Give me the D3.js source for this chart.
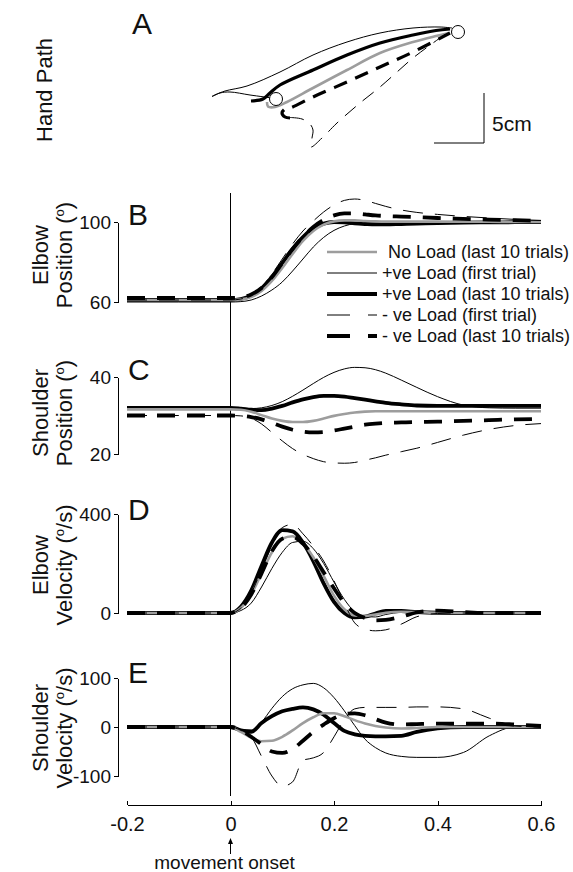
<!DOCTYPE html>
<meta charset="utf-8">

<head>
    <title>Hand path and joint kinematics</title>
</head>

<style>
    body {
        margin: 0;
        background-color: #ffffff;
    }

    svg {
        font-family: "Liberation Sans", Arial, sans-serif;
    }

    .axis path,
    .axis line {
        fill: none;
        stroke: #000;
        stroke-width: 1px;
        shape-rendering: crispEdges;
    }

    .axis text {
        font-size: 19px;
        fill: #111;
        font-family: "Liberation Sans", Arial, sans-serif;
    }

    .xaxis text {
        font-size: 20px;
    }

    .ylab {
        font-size: 22px;
        fill: #111;
    }

    .letter {
        font-size: 30px;
        fill: #111;
    }

    .legend text {
        font-size: 18px;
        fill: #111;
    }
</style>

<body>
    <svg width="573" height="872"></svg>
</body>

<script src="https://d3js.org/d3.v7.min.js"></script>

<script>
    // time base (s), shared by every trace
    var time = [-0.2, -0.1, 0, 0.02, 0.04, 0.06, 0.08, 0.1, 0.12, 0.14, 0.16, 0.18, 0.2,
        0.22, 0.24, 0.26, 0.28, 0.3, 0.33, 0.36, 0.4, 0.45, 0.5, 0.55, 0.6];
    var timeTicks = [-0.2, 0, 0.2, 0.4, 0.6];

    var conditions = ["No Load (last 10 trials)", "+ve Load (first trial)", "+ve Load (last 10 trials)",
        "- ve Load (first trial)", "- ve Load (last 10 trials)"];

    // B - elbow position (deg)
    var elbowPosTicks = [60, 100];
    var elbowPosNoLoad = [61, 61, 61, 61.3, 62.5, 65.5, 70.5, 77, 84, 90.5, 95.5, 98.7, 100.3, 100.8, 100.8, 100.5, 100.3, 100.2, 100.2, 100.2, 100.2, 100.1, 100.1, 100, 100];
    var elbowPosPosFirst = [60, 60, 60, 60.2, 61, 63, 66, 70, 75.5, 81.5, 87.5, 92.3, 95.8, 98, 99.2, 99.6, 99.5, 99.4, 99.3, 99.3, 99.4, 99.5, 99.6, 99.7, 99.8];
    var elbowPosPosLast = [61, 61, 61, 61.5, 63.2, 66.8, 72.5, 79.5, 86.5, 92.5, 96.8, 99.2, 100, 99.8, 99.3, 99, 98.8, 98.8, 99, 99.2, 99.5, 99.7, 99.8, 99.9, 100];
    var elbowPosNegFirst = [61, 61, 61, 61.5, 63.5, 67.5, 74, 81.5, 89, 95.5, 100.5, 105, 108.5, 110.8, 111.5, 110.8, 109.3, 107.8, 106, 104.8, 103.8, 102.8, 102, 101.3, 100.8];
    var elbowPosNegLast = [62, 62, 62, 62.3, 63.8, 67, 72.5, 79.5, 86.5, 92.5, 97.5, 101, 103.3, 104.3, 104.3, 103.8, 103.3, 103, 102.7, 102.4, 102, 101.6, 101.2, 100.9, 100.6];

    // C - shoulder position (deg)
    var shoulderPosTicks = [20, 40];
    var shoulderPosNoLoad = [31.6, 31.6, 31.6, 31.5, 31, 30.1, 29.2, 28.6, 28.3, 28.3, 28.6, 29.2, 29.9, 30.4, 30.8, 31, 31.1, 31.1, 31.1, 31.1, 31.1, 31.1, 31.1, 31.1, 31.1];
    var shoulderPosPosFirst = [32, 32, 32, 31.9, 31.8, 32, 32.6, 33.6, 35, 36.6, 38.3, 39.9, 41.2, 42.1, 42.5, 42.4, 41.9, 41, 39.2, 37.3, 34.9, 32.7, 32, 31.9, 31.9];
    var shoulderPosPosLast = [32, 32, 32, 31.8, 31.5, 31.4, 31.8, 32.5, 33.4, 34.2, 34.8, 35.1, 35.1, 34.9, 34.5, 34.1, 33.7, 33.3, 32.9, 32.6, 32.5, 32.5, 32.5, 32.5, 32.5];
    var shoulderPosNegFirst = [30, 30, 30, 29.9, 29.3, 27.8, 25.6, 23.4, 21.4, 19.9, 18.8, 18, 17.7, 17.6, 17.8, 18.4, 19, 19.7, 20.6, 21.5, 23, 24.9, 26.4, 27.4, 27.9];
    var shoulderPosNegLast = [30, 30, 30, 29.9, 29.6, 29, 28.1, 27.1, 26.3, 25.8, 25.6, 25.7, 26.1, 26.6, 27.1, 27.6, 27.9, 28.1, 28.2, 28.3, 28.4, 28.6, 28.8, 29, 29.1];

    // D - elbow velocity (deg/s)
    var elbowVelTicks = [0, 400];
    var elbowVelNoLoad = [0, 0, 0, 20, 75, 160, 245, 300, 310, 280, 225, 150, 70, 15, -10, -12, -6, 1, 5, 4, 1, 0, 0, 0, 0];
    var elbowVelPosFirst = [0, 0, 0, 10, 40, 105, 180, 245, 285, 290, 260, 200, 125, 55, 5, -15, -16, -6, 3, 5, 2, 0, 0, 0, 0];
    var elbowVelPosLast = [0, 0, 0, 25, 90, 190, 285, 335, 330, 285, 210, 120, 45, 0, -18, -15, -2, 8, 8, 4, 1, 0, 0, 0, 0];
    var elbowVelNegFirst = [0, 0, 0, 20, 80, 175, 270, 345, 358, 320, 270, 210, 130, 40, -40, -65, -72, -68, -45, -15, -2, 0, 0, 0, 0];
    var elbowVelNegLast = [0, 0, 0, 20, 75, 160, 250, 300, 308, 280, 230, 165, 100, 40, 0, -20, -30, -28, -15, 2, 10, 4, 0, 0, 0];

    // E - shoulder velocity (deg/s)
    var shoulderVelTicks = [-100, 0, 100];
    var shoulderVelNoLoad = [0, 0, 0, -10, -22, -29, -28, -20, -7, 8, 20, 28, 28, 22, 14, 7, 2, -1, -3, -2, 0, 0, 0, 0, 0];
    var shoulderVelPosFirst = [0, 0, 0, -5, -6, 10, 38, 62, 78, 86, 89, 80, 60, 33, 3, -25, -42, -53, -60, -62, -62, -52, -18, 0, 0];
    var shoulderVelPosLast = [0, 0, 0, -7, -10, 8, 22, 32, 37, 40, 36, 25, 8, -8, -15, -18, -19, -19, -18, -10, -3, 0, 0, 0, 0];
    var shoulderVelNegFirst = [0, 0, 0, -7, -20, -60, -100, -121, -112, -68, -63, -52, -20, 15, 37, 40, 40, 40, 40, 41, 41, 37, 18, 2, 0];
    var shoulderVelNegLast = [0, 0, 0, -6, -20, -35, -50, -53, -45, -28, -10, 5, 18, 26, 28, 24, 16, 9, 5, 6, 7, 7, 7, 5, 2];

    // A - hand paths, cm relative to the start circle (y up)
    var handStart = [0, 0];
    var handTarget = [18.2, 6.7];
    var handNoLoad = [[-0.9, -0.3], [-0.8, -0.75], [-0.1, -0.8], [1.1, -0.3], [3.7, 1.1], [7.1, 2.9], [10.4, 4.6], [13.7, 5.7], [16, 6.3], [17.3, 6.6]];
    var handPosFirst = [[-0.4, 0.1], [-2.6, 0.4], [-4.6, 0.7], [-5.6, 0.6], [-6.4, 0.25], [-6.0, 0.45], [-5.1, 0.8], [-2.9, 1.3], [0.4, 2.7], [3.7, 4.4], [7.1, 5.7], [10.4, 6.6], [13.7, 7.1], [16.4, 7.2], [17.6, 7.1]];
    var handPosLast = [[-2.5, -0.2], [-1.3, 0.0], [-0.6, 0.6], [0.4, 1.4], [3.7, 2.9], [7.1, 4.4], [10.4, 5.6], [13.7, 6.4], [16, 6.85], [17.4, 7.0]];
    var handNegFirst = [[1.4, -1.85], [2.6, -2.0], [3.4, -2.5], [3.7, -3.1], [3.6, -3.9], [3.5, -4.8], [4.9, -3.6], [6.1, -2.4], [8.4, -0.4], [10.4, 1.2], [12.1, 2.7], [13.7, 4.1], [15.7, 5.6], [17.1, 6.6]];
    var handNegLast = [[1.4, -1.9], [0.9, -1.8], [0.6, -1.4], [0.9, -1.0], [1.4, -0.9], [3.7, 0.2], [7.1, 1.7], [10.4, 3.2], [13.7, 4.7], [17.4, 6.6]];
    var scaleBarCm = 5;

    // styles, in the order of conditions
    var lineStyles = [
        { stroke: "#9d9d9d", width: 2.6, dash: null },
        { stroke: "#000", width: 1, dash: null },
        { stroke: "#000", width: 3.8, dash: null },
        { stroke: "#000", width: 1, dash: "20,12" },
        { stroke: "#000", width: 3.8, dash: "18,12" }
    ];
    // draw order: thick solid under the grey, dashed on top
    var drawOrder = [1, 2, 0, 3, 4];

    var svg = d3.select("svg");

    var x = d3.scaleLinear()
        .domain([-0.2, 0.6])
        .range([127, 541]);

    var panels = [
        {
            letter: "B", label: [["Elbow"], ["Position (", "o", ")"]], ticks: elbowPosTicks,
            range: [302, 222], labelY: 255, letterY: 225,
            series: [elbowPosNoLoad, elbowPosPosFirst, elbowPosPosLast, elbowPosNegFirst, elbowPosNegLast]
        },
        {
            letter: "C", label: [["Shoulder"], ["Position (", "o", ")"]], ticks: shoulderPosTicks,
            range: [454, 377], labelY: 413, letterY: 380,
            series: [shoulderPosNoLoad, shoulderPosPosFirst, shoulderPosPosLast, shoulderPosNegFirst, shoulderPosNegLast]
        },
        {
            letter: "D", label: [["Elbow"], ["Velocity (", "o", "/s)"]], ticks: elbowVelTicks,
            range: [613, 514], labelY: 565, letterY: 520,
            series: [elbowVelNoLoad, elbowVelPosFirst, elbowVelPosLast, elbowVelNegFirst, elbowVelNegLast]
        },
        {
            letter: "E", label: [["Shoulder"], ["Velocity (", "o", "/s)"]], ticks: shoulderVelTicks,
            range: [776, 678], labelY: 728, letterY: 683,
            series: [shoulderVelNoLoad, shoulderVelPosFirst, shoulderVelPosLast, shoulderVelNegFirst, shoulderVelNegLast]
        }
    ];

    function styleLine(sel, s) {
        sel.attr("fill", "none")
            .attr("stroke", s.stroke)
            .attr("stroke-width", s.width)
            .attr("stroke-dasharray", s.dash)
            .attr("stroke-linejoin", "round");
    }

    // rotated two-line axis titles, middle part is a superscript
    function yLabel(lines, x0, cy) {
        lines.forEach(function (parts, i) {
            var t = svg.append("text")
                .attr("class", "ylab")
                .attr("text-anchor", "middle")
                .attr("transform", "translate(" + (x0 + i * 24) + "," + cy + ") rotate(-90)");
            t.append("tspan").text(parts[0]);
            if (parts.length > 1) {
                t.append("tspan").attr("dy", -8).style("font-size", "13px").text(parts[1]);
                t.append("tspan").attr("dy", 8).text(parts[2]);
            }
        });
    }

    // movement onset marker
    svg.append("line")
        .attr("x1", x(0)).attr("x2", x(0))
        .attr("y1", 193).attr("y2", 796)
        .attr("stroke", "#000")
        .attr("stroke-width", 1);

    panels.forEach(function (p) {
        var y = d3.scaleLinear()
            .domain([p.ticks[0], p.ticks[p.ticks.length - 1]])
            .range(p.range);

        var yAxis = d3.axisLeft(y)
            .tickValues(p.ticks)
            .tickSize(4)
            .tickSizeOuter(0)
            .tickPadding(3)
            .tickFormat(d => String(d));

        svg.append("g")
            .attr("class", "axis")
            .attr("transform", "translate(118,0)")
            .call(yAxis);

        var line = d3.line()
            .curve(d3.curveMonotoneX)
            .x((d, i) => x(time[i]))
            .y(d => y(d));

        drawOrder.forEach(function (k) {
            svg.append("path")
                .datum(p.series[k])
                .attr("d", line)
                .call(styleLine, lineStyles[k]);
        });

        svg.append("text")
            .attr("class", "letter")
            .attr("x", 128)
            .attr("y", p.letterY)
            .text(p.letter);

        yLabel(p.label, 48, p.labelY);
    });

    // time axis
    var xAxis = d3.axisBottom(x)
        .tickValues(timeTicks)
        .tickSize(-4)
        .tickSizeOuter(0)
        .tickPadding(12)
        .tickFormat(d => String(d));

    svg.append("g")
        .attr("class", "axis xaxis")
        .attr("transform", "translate(0,805)")
        .call(xAxis);

    svg.append("line")
        .attr("x1", x(0)).attr("x2", x(0))
        .attr("y1", 842).attr("y2", 854)
        .attr("stroke", "#000");
    svg.append("path")
        .attr("d", "M" + x(0) + ",838l-2.5,6h5z")
        .attr("fill", "#000");
    svg.append("text")
        .attr("x", x(0) - 6)
        .attr("y", 869)
        .attr("text-anchor", "middle")
        .style("font-size", "19px")
        .style("fill", "#111")
        .text("movement onset");

    // legend inside panel B
    var legend = svg.append("g").attr("class", "legend");
    conditions.forEach(function (c, i) {
        var ly = 252 + i * 21;
        legend.append("line")
            .attr("x1", 327).attr("x2", 377)
            .attr("y1", ly).attr("y2", ly)
            .call(styleLine, lineStyles[i])
            .attr("stroke-dasharray", lineStyles[i].dash ? "23,18" : null);
        legend.append("text")
            .attr("x", i == 0 ? 388 : 382)
            .attr("y", ly)
            .attr("dy", "0.35em")
            .text(c);
    });

    // A - hand path, 10 px per cm
    var hx = d3.scaleLinear().domain([0, 1]).range([276, 286]);
    var hy = d3.scaleLinear().domain([0, 1]).range([99, 89]);

    var handLine = d3.line()
        .curve(d3.curveCatmullRom.alpha(0.5))
        .x(d => hx(d[0]))
        .y(d => hy(d[1]));

    var hands = [handNoLoad, handPosFirst, handPosLast, handNegFirst, handNegLast];
    var handDash = [null, null, null, "14,9", "14,9"];
    drawOrder.forEach(function (k) {
        svg.append("path")
            .datum(hands[k])
            .attr("d", handLine)
            .call(styleLine, lineStyles[k])
            .attr("stroke-width", k == 2 || k == 4 ? 3.2 : lineStyles[k].width)
            .attr("stroke-dasharray", handDash[k]);
    });

    svg.selectAll(".target")
        .data([handStart, handTarget])
        .enter()
        .append("circle")
        .attr("class", "target")
        .attr("cx", d => hx(d[0]))
        .attr("cy", d => hy(d[1]))
        .attr("r", 6.5)
        .attr("fill", "#fff")
        .attr("stroke", "#000")
        .attr("stroke-width", 1);

    // 5 cm scale bar
    var barCorner = [20.8, -4.4];
    svg.append("path")
        .attr("d", "M" + hx(barCorner[0] - scaleBarCm) + "," + hy(barCorner[1]) +
            "H" + hx(barCorner[0]) + "V" + hy(barCorner[1] + scaleBarCm))
        .attr("fill", "none")
        .attr("stroke", "#000")
        .attr("stroke-width", 1);
    svg.append("text")
        .attr("x", hx(barCorner[0]) + 8)
        .attr("y", 131)
        .style("font-size", "21px")
        .style("fill", "#111")
        .text(scaleBarCm + "cm");

    svg.append("text")
        .attr("class", "letter")
        .attr("x", 132)
        .attr("y", 34)
        .text("A");

    yLabel([["Hand Path"]], 52, 90);
</script>
